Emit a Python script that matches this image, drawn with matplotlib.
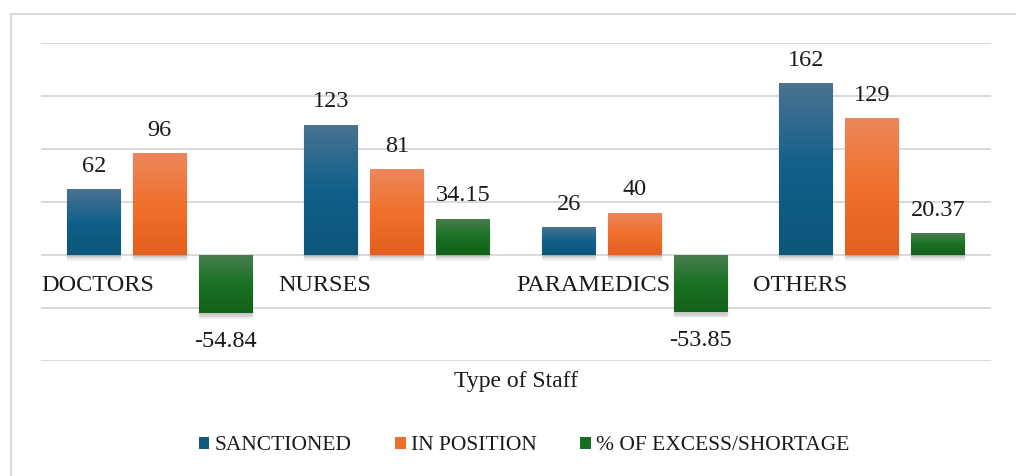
import numpy as np
import matplotlib
matplotlib.use('Agg')
import matplotlib.pyplot as plt
import matplotlib.patheffects as pe
from matplotlib.colors import LinearSegmentedColormap
from matplotlib.patches import Patch, Rectangle

# Data
categories = ['DOCTORS', 'NURSES', 'PARAMEDICS', 'OTHERS']
series_names = ['SANCTIONED', 'IN POSITION', '% OF EXCESS/SHORTAGE']
sanctioned = [62, 123, 26, 162]
in_position = [96, 81, 40, 129]
pct_diff = [-54.84, 34.15, -53.85, 20.37]
label_fmt = ['{:.0f}', '{:.0f}', '{:.2f}']

# gradient stops per series (top, middle, bottom)
grad_colors = [
    ['#4a7391', '#11608a', '#0c5679'],
    ['#ec875c', '#f0702c', '#e3601e'],
    ['#4b7f50', '#1a7124', '#136219'],
]
legend_colors = ['#0f5c82', '#ee6f2c', '#177022']

plt.rcParams['font.family'] = ['Liberation Serif', 'DejaVu Serif']

fig = plt.figure(figsize=(10.16, 4.76), dpi=100)
ax = fig.add_axes([41 / 1016, 1 - 361 / 476, 950 / 1016, 318 / 476])

# outer frame
fig.patches.append(Rectangle((11 / 1016, -0.1), 1.2, 1 - 14 / 476 + 0.1,
                             transform=fig.transFigure, fill=False,
                             edgecolor='#d9d9d9', linewidth=1.5))

x = np.arange(len(categories))
width = 0.227
step = 0.278
all_series = [sanctioned, in_position, pct_diff]

# soft drop shadow made of a few faint offset copies
shadow = [pe.SimplePatchShadow(offset=(dx, dy), shadow_rgbFace='#404040', alpha=a)
          for dx, dy, a in [(0, -4.5, 0.05), (0, -3.5, 0.07), (-0.8, -2.5, 0.06),
                            (0.8, -2.5, 0.06), (0, -1.5, 0.08)]]

for s, vals in enumerate(all_series):
    cmap = LinearSegmentedColormap.from_list('g%d' % s, grad_colors[s])
    grad = np.linspace(0, 1, 256).reshape(-1, 1)
    bars = ax.bar(x + (s - 1) * step, vals, width, color=legend_colors[s], zorder=3)
    for b, v in zip(bars, vals):
        b.set_path_effects(shadow + [pe.Normal()])
        x0, y0 = b.get_x(), b.get_y()
        h = b.get_height()
        top, bot = max(y0, y0 + h), min(y0, y0 + h)
        im = ax.imshow(grad, cmap=cmap, aspect='auto', origin='upper',
                       extent=[x0, x0 + width, bot, top], zorder=4)
        im.set_clip_path(b)
        txt = label_fmt[s].format(v)
        if v >= 0:
            ax.annotate(txt, (b.get_x() + width / 2, v), xytext=(0, 12.5),
                        textcoords='offset points', ha='center', va='baseline',
                        fontsize=17.5, color='#1a1a1a', zorder=5)
        else:
            ax.annotate(txt, (b.get_x() + width / 2, v), xytext=(0, -24.5),
                        textcoords='offset points', ha='center', va='baseline',
                        fontsize=17.5, color='#1a1a1a', zorder=5)

# category labels at the zero line, left aligned in each category slot
for i, c in enumerate(categories):
    ax.annotate(c, (i - 0.5, 0), xytext=(0, -26), textcoords='offset points',
                ha='left', va='baseline', fontsize=17.5, color='#1a1a1a')

ax.set_xlim(-0.5, len(categories) - 0.5)
ax.set_ylim(-100, 200)
ax.set_yticks(np.arange(-100, 201, 50))
ax.yaxis.grid(True, color='#d9d9d9', linewidth=1.4, zorder=0)
ax.set_axisbelow(True)
ax.tick_params(left=False, bottom=False, labelleft=False, labelbottom=False)
for sp in ax.spines.values():
    sp.set_visible(False)

fig.text(516 / 1016, 1 - 381 / 476, 'Type of Staff', ha='center', va='center',
         fontsize=17, color='#1a1a1a')

handles = [Patch(facecolor=legend_colors[i], label=series_names[i]) for i in range(3)]
fig.legend(handles=handles, loc='center', bbox_to_anchor=(524 / 1016, 1 - 446 / 476),
           ncol=3, frameon=False, fontsize=15.5, handlelength=0.5, handleheight=0.5,
           handletextpad=0.25, columnspacing=2.0, labelcolor='#1a1a1a')

fig.savefig('out.png', dpi=100)
